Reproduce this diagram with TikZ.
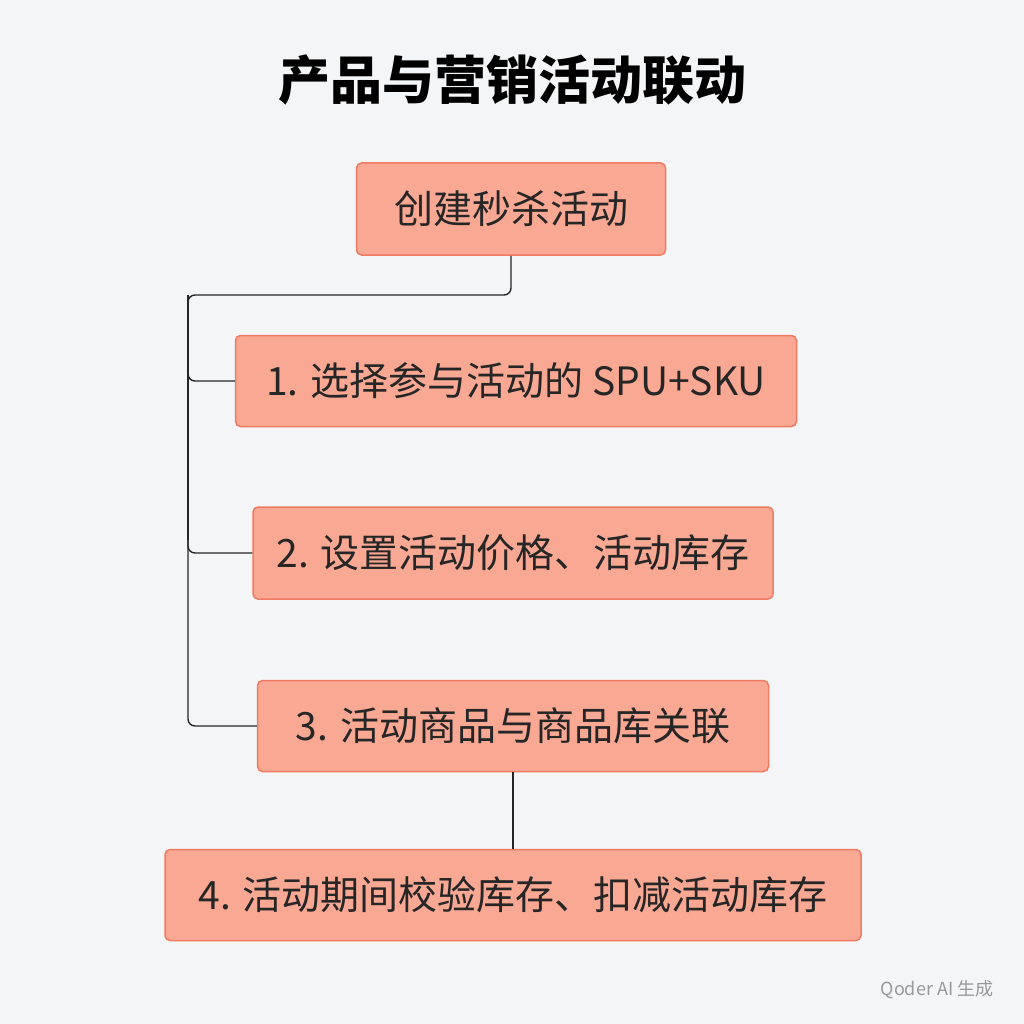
\documentclass[tikz,border=0pt]{standalone}
\usepackage{fontspec}
\setmainfont{Noto Sans CJK SC}
\begin{document}
\begin{tikzpicture}[x=1pt,y=-1pt,
 box/.style={draw=boxline,fill=boxfill,line width=1.5pt,rounded corners=5pt,inner sep=0pt,font=\fontsize{39}{46}\selectfont,text=black!85},
 conn/.style={draw=black!85,line width=1.4pt,rounded corners=7pt}]
\definecolor{boxfill}{HTML}{F9A893}
\definecolor{boxline}{HTML}{F07B62}
\definecolor{bg}{HTML}{F4F5F6}
\fill[bg] (0,0) rectangle (1024,1024);
\useasboundingbox (0,0) rectangle (1024,1024);
\node (title) at (512,80) {\fontsize{52}{60}\selectfont\bfseries 产品与营销活动联动};
\node[box,minimum width=309pt,minimum height=92pt] (t) at (511,209) {创建秒杀活动};
\node[box,minimum width=561pt,minimum height=91pt] (b1) at (516,381) {1. 选择参与活动的 SPU+SKU};
\node[box,minimum width=520pt,minimum height=92pt] (b2) at (513,553) {2. 设置活动价格、活动库存};
\node[box,minimum width=511pt,minimum height=91pt] (b3) at (513,726) {3. 活动商品与商品库关联};
\node[box,minimum width=696pt,minimum height=91pt] (b4) at (513,895) {4. 活动期间校验库存、扣减活动库存};
\coordinate (c1) at (188,295);
\draw[conn] (t.south) |- (c1) |- (b1.west);
\draw[conn] (c1) -- (188,540);
\draw[conn] (188,370) |- (b2.west);
\draw[conn] (188,540) |- (b3.west);
\draw[conn] (b3.south) -- (b4.north);
\node[text=black!40,font=\fontsize{18}{22}\selectfont] (w) at (937,990) {Qoder AI 生成};
\end{tikzpicture}
\end{document}
